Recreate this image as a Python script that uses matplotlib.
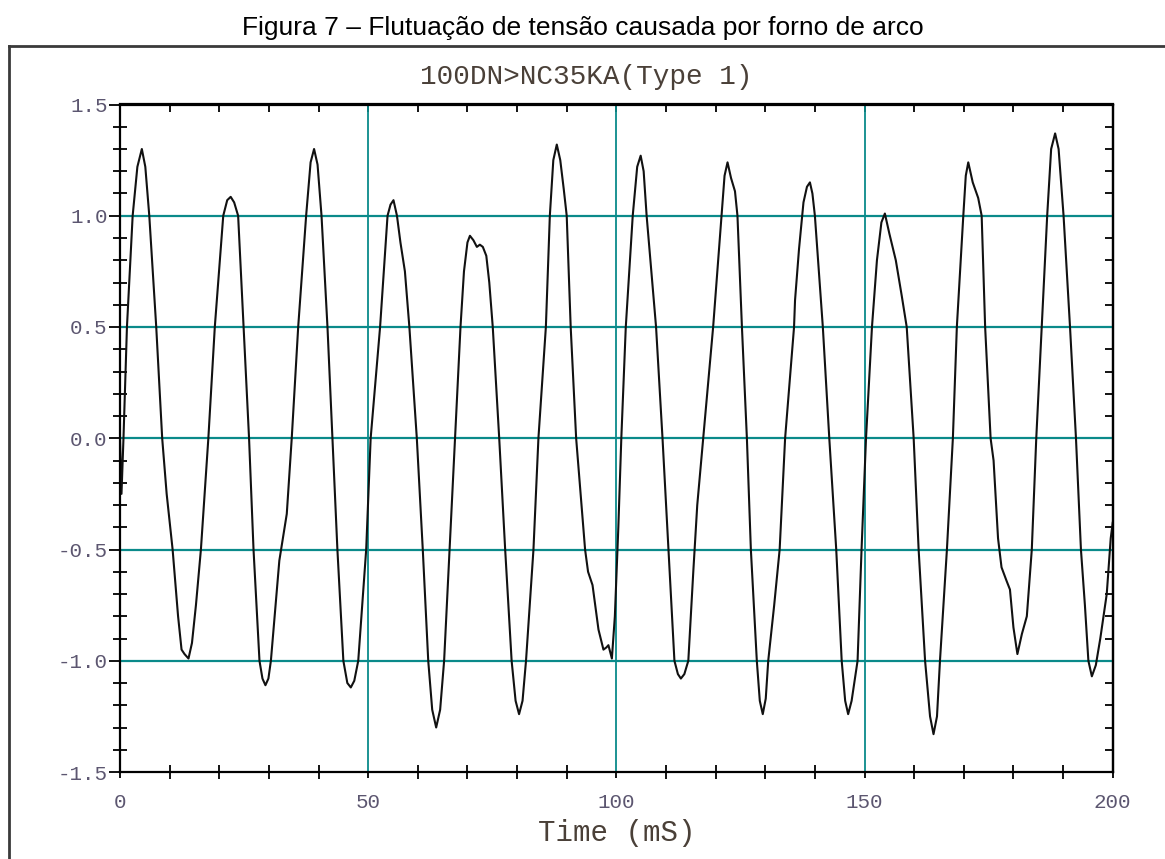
import matplotlib.pyplot as plt
from matplotlib.lines import Line2D
from matplotlib.ticker import MultipleLocator, FixedLocator

# %% データ

fig_title = 'Figura 7 – Flutuação de tensão causada por forno de arco'
plot_title = '100DN>NC35KA(Type 1)'
x_label = 'Time (mS)'

x_ticks = [0, 50, 100, 150, 200]
y_ticks = [-1.5, -1.0, -0.5, 0.0, 0.5, 1.0, 1.5]
x_grid = [50, 100, 150]
y_grid = [-1.0, -0.5, 0.0, 0.5, 1.0]

t_ms = [
    0.0, 0.3, 0.7, 1.4, 2.55, 3.5, 4.4, 5.1, 5.9, 7.3, 8.5, 9.4, 10.6, 11.7,
    12.4, 13.0, 13.8, 14.5, 15.3, 16.3, 17.8, 19.1, 20.8, 21.6, 22.3, 23.0,
    23.8, 24.9, 26.0, 26.9, 28.1, 28.7, 29.3, 29.9, 30.4, 32.1, 33.6, 34.6,
    35.9, 37.5, 38.4, 39.1, 39.8, 40.6, 41.8, 42.8, 43.8, 45.0, 45.8, 46.5,
    47.2, 48.0, 49.6, 50.5, 52.4, 53.9, 54.5, 55.1, 55.8, 56.5, 57.4, 58.3,
    59.8, 61.0, 62.1, 62.9, 63.7, 64.5, 65.3, 66.4, 67.5, 68.6, 69.3, 70.0,
    70.5, 71.2, 71.9, 72.5, 73.1, 73.8, 74.4, 75.1, 76.4, 77.6, 78.9, 79.7,
    80.4, 81.1, 81.8, 83.3, 84.3, 85.8, 86.6, 87.3, 88.0, 88.7, 89.4, 90.0,
    90.8, 91.9, 93.7, 94.3, 95.2, 96.4, 97.4, 98.0, 98.4, 99.1, 99.7, 100.4,
    101.0, 101.9, 103.3, 104.2, 104.9, 105.5, 106.1, 108.0, 109.3, 110.5,
    111.7, 112.4, 113.0, 113.7, 114.5, 115.5, 116.3, 117.5, 119.5, 121.2,
    121.8, 122.4, 123.1, 123.9, 124.4, 125.3, 126.3, 127.1, 128.3, 128.9,
    129.5, 130.1, 130.6, 131.8, 132.9, 134.0, 135.8, 136.0, 136.8, 137.7,
    138.4, 139.0, 139.5, 140.0, 141.6, 142.9, 144.3, 145.4, 146.1, 146.7,
    147.4, 148.6, 149.4, 150.3, 151.5, 152.5, 153.4, 154.1, 155.0, 156.3,
    157.5, 158.5, 159.9, 160.9, 162.2, 163.2, 163.9, 164.6, 165.2, 166.6,
    167.8, 168.6, 169.9, 170.4, 170.9, 171.8, 172.9, 173.6, 174.3, 175.4,
    176.0, 176.9, 177.6, 178.6, 179.3, 180.0, 180.8, 181.7, 182.7, 183.7,
    184.6, 185.7, 186.8, 187.6, 188.4, 189.1, 190.1, 191.4, 192.6, 193.6,
    194.4, 195.1, 195.8, 196.6, 197.5, 198.8, 199.6, 200.0,
]
volt = [
    0.0, -0.25, 0.0, 0.5, 1.0, 1.22, 1.30, 1.22, 1.0, 0.5, 0.0, -0.25, -0.5, -0.8,
    -0.95, -0.97, -0.99, -0.92, -0.75, -0.5, 0.0, 0.5, 1.0, 1.07, 1.085, 1.06,
    1.0, 0.5, 0.0, -0.5, -1.0, -1.08, -1.11, -1.08, -1.0, -0.55, -0.34, 0.0,
    0.5, 1.0, 1.24, 1.30, 1.23, 1.0, 0.5, 0.0, -0.5, -1.0, -1.10, -1.12,
    -1.09, -1.0, -0.5, 0.0, 0.5, 1.0, 1.05, 1.07, 1.0, 0.88, 0.75, 0.5,
    0.0, -0.5, -1.0, -1.22, -1.30, -1.22, -1.0, -0.5, 0.0, 0.5, 0.75, 0.88,
    0.91, 0.89, 0.86, 0.87, 0.86, 0.82, 0.7, 0.5, 0.0, -0.5, -1.0, -1.18,
    -1.24, -1.18, -1.0, -0.5, 0.0, 0.5, 1.0, 1.25, 1.32, 1.25, 1.12, 1.0,
    0.5, 0.0, -0.5, -0.6, -0.66, -0.86, -0.95, -0.94, -0.93, -0.99, -0.8, -0.4,
    0.0, 0.5, 1.0, 1.22, 1.27, 1.2, 1.0, 0.5, 0.0, -0.5,
    -1.0, -1.06, -1.08, -1.06, -1.0, -0.6, -0.3, 0.0, 0.5, 1.0,
    1.18, 1.24, 1.17, 1.11, 1.0, 0.5, 0.0, -0.5, -1.0, -1.18,
    -1.24, -1.17, -1.0, -0.75, -0.5, 0.0, 0.5, 0.62, 0.85, 1.06,
    1.13, 1.15, 1.1, 1.0, 0.5, 0.0, -0.5, -1.0, -1.18, -1.24,
    -1.18, -1.0, -0.5, 0.0, 0.5, 0.8, 0.97, 1.01, 0.92, 0.8,
    0.64, 0.5, 0.0, -0.5, -1.0, -1.25, -1.33, -1.25, -1.0, -0.5,
    0.0, 0.5, 1.0, 1.18, 1.24, 1.15, 1.08, 1.0, 0.5, 0.0,
    -0.1, -0.45, -0.58, -0.64, -0.68, -0.85, -0.97, -0.88, -0.8, -0.5,
    0.0, 0.5, 1.0, 1.3, 1.37, 1.3, 1.0, 0.5, 0.0, -0.5,
    -0.75, -1.0, -1.07, -1.02, -0.9, -0.7, -0.45, -0.38,
]

# %% 図の準備

W, H = 1165, 859
fig = plt.figure(figsize=(W / 100, H / 100), dpi=100)

mono = 'Liberation Mono'
teal = '#0a8a8a'
label_col = '#5c5670'
text_col = '#4a4038'

# 外枠 (左と上だけ見えている)
fig.add_artist(Line2D([9 / W, 9 / W], [0, 1 - 46 / H],
    transform=fig.transFigure, color='#3a3a3a', lw=2))
fig.add_artist(Line2D([9 / W, 1], [1 - 46 / H, 1 - 46 / H],
    transform=fig.transFigure, color='#3a3a3a', lw=2))

fig.text(0.5, 1 - 28 / H, fig_title, ha='center', va='center',
    fontsize=19, family='Liberation Sans')
fig.text(0.503, 1 - 77 / H, plot_title, ha='center', va='center',
    fontsize=20, family=mono, color=text_col)

# プロット領域
left, right, top, bottom = 120, 1112.7, 104.5, 772
ax = fig.add_axes([left / W, 1 - bottom / H,
    (right - left) / W, (bottom - top) / H])

for v in y_grid:
    ax.axhline(v, color=teal, lw=1.6, zorder=1)
for v in x_grid:
    ax.axvline(v, color=teal, lw=1.3, zorder=1)

ax.plot(t_ms, volt, color='#111111', lw=1.5, zorder=3)

ax.set_xlim(0, 200)
ax.set_ylim(-1.5, 1.5)

for s in ax.spines.values():
    s.set_linewidth(1.6)
    s.set_zorder(4)

# 目盛り
ax.xaxis.set_major_locator(FixedLocator(x_ticks))
ax.xaxis.set_minor_locator(MultipleLocator(10))
ax.yaxis.set_major_locator(FixedLocator(y_ticks))
ax.yaxis.set_minor_locator(MultipleLocator(0.1))
ax.set_yticklabels([f'{v:.1f}' for v in y_ticks])

ax.tick_params(axis='x', which='major', direction='out', length=4,
    width=1.3, pad=11, top=False, labelsize=15, labelcolor=label_col)
ax.tick_params(axis='x', which='minor', direction='inout', length=10,
    width=1.3, top=False)
ax.tick_params(axis='y', which='major', direction='out', length=8,
    width=1.3, pad=1, right=False, labelsize=15, labelcolor=label_col)
ax.tick_params(axis='y', which='minor', direction='inout', length=10,
    width=1.3, right=False)
for lab in ax.get_xticklabels() + ax.get_yticklabels():
    lab.set_family(mono)

# 上と右は内向きの小目盛りだけ
sx = ax.secondary_xaxis('top')
sx.xaxis.set_major_locator(FixedLocator([]))
sx.xaxis.set_minor_locator(MultipleLocator(10))
sx.tick_params(which='minor', direction='in', length=6, width=1.3)
sx.spines['top'].set_linewidth(1.6)

sy = ax.secondary_yaxis('right')
sy.yaxis.set_major_locator(FixedLocator([]))
sy.yaxis.set_minor_locator(MultipleLocator(0.1))
sy.tick_params(which='minor', direction='in', length=6, width=1.3)
sy.spines['right'].set_linewidth(1.6)

ax.set_xlabel(x_label, family=mono, fontsize=21, color=text_col, labelpad=5)

fig.savefig('out.png', dpi=100)
